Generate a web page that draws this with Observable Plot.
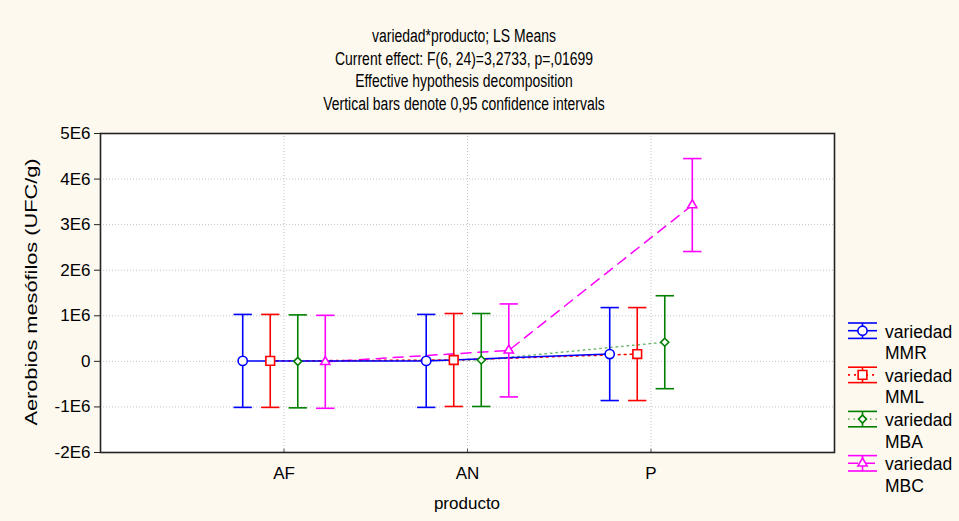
<!DOCTYPE html>
<html>
<head>
<meta charset="utf-8">
<script src="https://cdn.jsdelivr.net/npm/d3@7"></script>
<script src="https://cdn.jsdelivr.net/npm/@observablehq/plot@0.6"></script>
<style>
  body { margin: 0; background: #fdf9ef; }
  #wrap { position: relative; width: 959px; height: 521px; background: #fdf9ef; overflow: hidden;
          font-family: "Liberation Sans", Arial, sans-serif; color: #000; }
  #title { position: absolute; left: 0; top: 25px; width: 928px; text-align: center;
           font-family: "Liberation Sans", Arial, sans-serif;
           font-size: 18px; line-height: 22.7px; transform: scaleX(0.775); transform-origin: 464px 0; }
  #chart { position: absolute; left: 0; top: 120px; }
  #ylab { position: absolute; left: 32px; top: 292px;
          transform: translate(-50%, -50%) rotate(-90deg) scaleX(1.28);
          font-size: 17px; white-space: nowrap; }
  #xlab { position: absolute; left: 467px; top: 504px; transform: translate(-50%, -50%); font-size: 17px; }
  #legend { position: absolute; left: 840px; top: 310px; }
</style>
</head>
<body>
<div id="wrap">
  <div id="title">
    <div>variedad*producto; LS Means</div>
    <div>Current effect: F(6, 24)=3,2733, p=,01699</div>
    <div>Effective hypothesis decomposition</div>
    <div>Vertical bars denote 0,95 confidence intervals</div>
  </div>
  <div id="chart"></div>
  <div id="ylab">Aerobios mesófilos (UFC/g)</div>
  <div id="xlab">producto</div>
  <svg id="legend" width="119" height="190"></svg>
</div>
<script>
// Levels of the two factors
const products = ["AF", "AN", "P"];
const varieties = ["MMR", "MML", "MBA", "MBC"];

// LS means per variety, one value per product (UFC/g)
const meanMMR = [0.01e6, 0.01e6, 0.16e6];
const meanMML = [0.01e6, 0.03e6, 0.16e6];
const meanMBA = [0.00e6, 0.03e6, 0.42e6];
const meanMBC = [-0.01e6, 0.24e6, 3.43e6];

// Half-width of the 0,95 confidence interval per variety and product
const ciMMR = [1.02e6, 1.02e6, 1.02e6];
const ciMML = [1.02e6, 1.02e6, 1.02e6];
const ciMBA = [1.02e6, 1.02e6, 1.02e6];
const ciMBC = [1.02e6, 1.02e6, 1.02e6];

// Y axis ticks
const yTicks = [-2e6, -1e6, 0, 1e6, 2e6, 3e6, 4e6, 5e6];
const yTickLabels = ["-2E6", "-1E6", "0", "1E6", "2E6", "3E6", "4E6", "5E6"];

// Series styling
const colors = ["#0000ff", "#ff0000", "#008000", "#ff00ff"];
const dashes = [null, "2,4", "1.5,4", "10,7"];
const opacities = [1, 1, 0.55, 1];
const symbols = ["circle", "square", "diamond2", "triangle"];
const markerR = [4.6, 4.9, 3.6, 3.4];

const means = [meanMMR, meanMML, meanMBA, meanMBC];
const cis = [ciMMR, ciMML, ciMBA, ciMBC];
const dodge = [-0.225, -0.075, 0.075, 0.225];   // horizontal dodge within a product slot
const capHalf = 0.05;

const rows = [];
varieties.forEach((v, s) => {
  products.forEach((p, i) => {
    rows.push({
      variety: v,
      product: p,
      x: i + 1 + dodge[s],
      mean: means[s][i],
      lo: means[s][i] - cis[s][i],
      hi: means[s][i] + cis[s][i],
      r: markerR[s]
    });
  });
});

const lines = varieties.map((v, s) => Plot.line(rows.filter(d => d.variety === v), {
  x: "x", y: "mean", stroke: colors[s], strokeWidth: 1.5,
  strokeDasharray: dashes[s] ?? undefined, strokeOpacity: opacities[s]
})).reverse();

const chart = Plot.plot({
  width: 959,
  height: 401,
  marginLeft: 100,
  marginRight: 125,
  marginTop: 13,
  marginBottom: 69,
  style: { background: "transparent", fontFamily: "Liberation Sans, Arial, sans-serif", fontSize: "17px", color: "#000" },
  x: { domain: [0, 4], axis: null },
  y: { domain: [-2e6, 5e6], axis: null },
  r: { type: "identity" },
  color: { domain: varieties, range: colors },
  symbol: { domain: varieties, range: symbols },
  marks: [
    Plot.frame({ fill: "white" }),
    Plot.ruleY(yTicks.slice(1, -1), { stroke: "#c4c4c4", strokeDasharray: "1,2" }),
    Plot.ruleX([1, 2, 3], { stroke: "#c4c4c4", strokeDasharray: "1,2" }),
    ...lines,
    Plot.ruleX(rows, { x: "x", y1: "lo", y2: "hi", stroke: "variety", strokeWidth: 1.6 }),
    Plot.link(rows, { x1: d => d.x - capHalf, x2: d => d.x + capHalf, y1: "hi", y2: "hi", stroke: "variety", strokeWidth: 1.6 }),
    Plot.link(rows, { x1: d => d.x - capHalf, x2: d => d.x + capHalf, y1: "lo", y2: "lo", stroke: "variety", strokeWidth: 1.6 }),
    Plot.dot(rows, { x: "x", y: "mean", symbol: "variety", stroke: "variety", fill: "white", r: "r", strokeWidth: 1.6 }),
    Plot.ruleX([1, 2, 3], { y1: -2e6, y2: -1.93e6, stroke: "#555" }),
    Plot.frame({ stroke: "#222", strokeWidth: 1.6 }),
    Plot.axisY({ ticks: yTicks, tickSize: 6, tickPadding: 4, tickFormat: v => yTickLabels[yTicks.indexOf(v)], label: null, stroke: "#222" }),
    Plot.axisX({ ticks: [1, 2, 3], tickFormat: i => products[i - 1], tickSize: 0, tickPadding: 14, label: null })
  ]
});
document.getElementById("chart").appendChild(chart);

// Legend: error-bar symbol with marker, then two-line label
const leg = d3.select("#legend");
const rowGap = 44.2;
const symTypes = [d3.symbolCircle, d3.symbolSquare, d3.symbolDiamond2, d3.symbolTriangle];
varieties.forEach((v, s) => {
  const cy = 20.7 + s * rowGap;
  const g = leg.append("g").attr("transform", `translate(0,${cy})`);
  const x0 = 8, x1 = 37, cx = 22.5;
  g.append("line").attr("x1", x0).attr("x2", x1).attr("y1", -7.7).attr("y2", -7.7)
    .attr("stroke", colors[s]).attr("stroke-width", 1.6);
  g.append("line").attr("x1", x0).attr("x2", x1).attr("y1", 7.7).attr("y2", 7.7)
    .attr("stroke", colors[s]).attr("stroke-width", 1.6);
  g.append("line").attr("x1", cx).attr("x2", cx).attr("y1", -7.7).attr("y2", 7.7)
    .attr("stroke", colors[s]).attr("stroke-width", 1.6);
  g.append("line").attr("x1", x0).attr("x2", x1).attr("y1", 0).attr("y2", 0)
    .attr("stroke", colors[s]).attr("stroke-width", 1.6)
    .attr("stroke-dasharray", dashes[s]).attr("stroke-opacity", opacities[s]);
  g.append("path").attr("transform", `translate(${cx},0)`)
    .attr("d", d3.symbol(symTypes[s], Math.PI * markerR[s] * markerR[s])())
    .attr("fill", "white").attr("stroke", colors[s]).attr("stroke-width", 1.6);
  g.append("text").attr("x", 45).attr("y", 7).attr("font-size", 17.5)
    .attr("font-family", "Liberation Sans, Arial, sans-serif").text("variedad");
  g.append("text").attr("x", 45).attr("y", 28.6).attr("font-size", 17.5)
    .attr("font-family", "Liberation Sans, Arial, sans-serif").text(v);
});
</script>
</body>
</html>
